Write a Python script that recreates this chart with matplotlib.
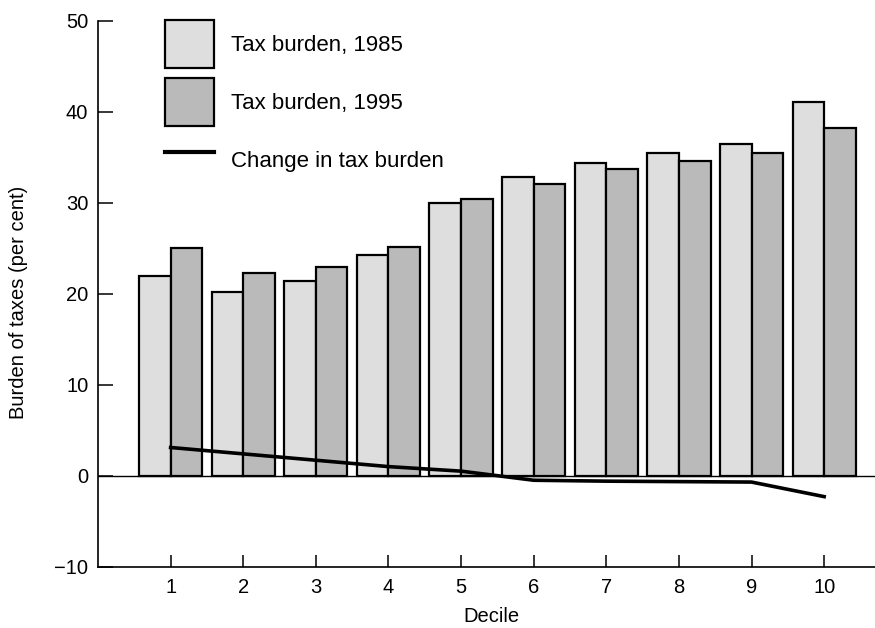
import matplotlib.pyplot as plt
import numpy as np
from matplotlib.patches import Patch
from matplotlib.lines import Line2D

# Data
deciles = [1, 2, 3, 4, 5, 6, 7, 8, 9, 10]
burden_1985 = [22.0, 20.2, 21.4, 24.2, 30.0, 32.8, 34.4, 35.5, 36.4, 41.1]
burden_1995 = [25.0, 22.3, 22.9, 25.1, 30.4, 32.1, 33.7, 34.6, 35.5, 38.2]
change = [3.1, 2.4, 1.7, 1.0, 0.5, -0.5, -0.6, -0.65, -0.7, -2.3]
yticks = [-10, 0, 10, 20, 30, 40, 50]

plt.rcParams['font.family'] = ['Liberation Sans', 'DejaVu Sans']

W, H = 875, 628
fig = plt.figure(figsize=(W / 100, H / 100), dpi=100)
ax = fig.add_axes([98 / W, 1 - 566.7 / H, (875 - 98) / W, (566.7 - 20.7) / H])

x = np.array(deciles)
w = 0.435
ax.bar(x - w / 2, burden_1985, width=w, color='#dedede', edgecolor='black', linewidth=1.6, zorder=2)
ax.bar(x + w / 2, burden_1995, width=w, color='#bababa', edgecolor='black', linewidth=1.6, zorder=2)
ax.axhline(0, color='black', linewidth=1.0, zorder=1)
ax.plot(x, change, color='black', linewidth=2.6, zorder=3)

ax.set_xlim(0.0, 10.70)
ax.set_ylim(-10, 50)
ax.set_xticks(deciles)
ax.set_yticks(yticks)
ax.spines['top'].set_visible(False)
ax.spines['right'].set_visible(False)
ax.spines['left'].set_linewidth(1.2)
ax.spines['bottom'].set_linewidth(1.2)
ax.tick_params(axis='y', direction='in', length=11, width=1.1, labelsize=14.5, pad=7)
ax.tick_params(axis='x', direction='in', length=9, width=1.1, labelsize=14.5, pad=8)

ax.set_ylabel('Burden of taxes (per cent)', fontsize=14.5)
ax.set_xlabel('Decile', fontsize=14.5)
ax.yaxis.set_label_coords((28 - 98) / 777, 0.485)
ax.xaxis.set_label_coords((491 - 98) / 777, (566.7 - 607) / 546)

handles = [
    Patch(facecolor='#dedede', edgecolor='black', linewidth=1.6),
    Patch(facecolor='#bababa', edgecolor='black', linewidth=1.6),
    Line2D([], [], color='black', linewidth=3),
]
labels = ['Tax burden, 1985', 'Tax burden, 1995', 'Change in tax burden']
ax.legend(handles, labels, loc='upper left', bbox_to_anchor=(165 / W, 1 - 20 / H),
          bbox_transform=fig.transFigure, frameon=False, fontsize=16,
          handlelength=2.2, handleheight=2.96, handletextpad=0.75,
          labelspacing=0.45, borderpad=0, borderaxespad=0)

fig.savefig('out.png', dpi=100)
